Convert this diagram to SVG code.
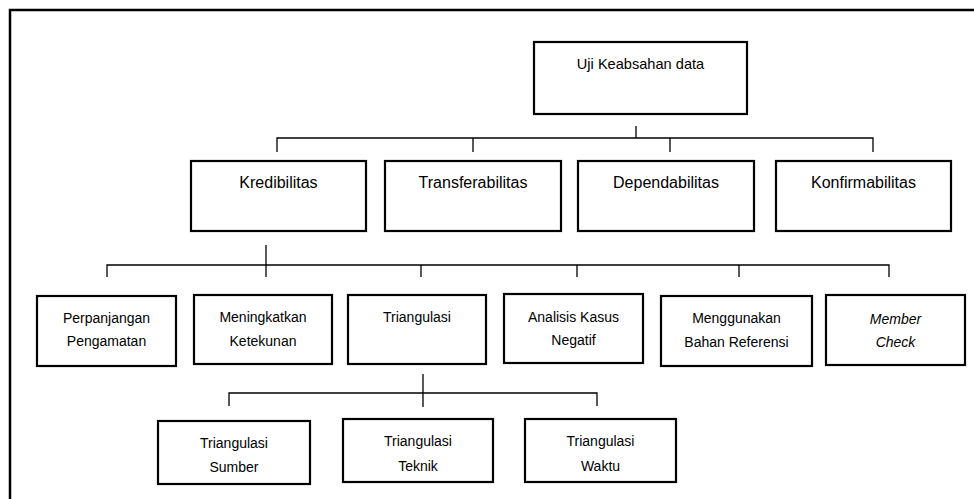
<svg xmlns="http://www.w3.org/2000/svg" width="974" height="499" viewBox="0 0 974 499">
<style>
.box{fill:#fff;stroke:#000;stroke-width:2.2}
.frame{fill:none;stroke:#000;stroke-width:2.5}
.c{fill:none;stroke:#000;stroke-width:1.3}
text{font-family:"Liberation Sans",Arial,sans-serif;fill:#000;text-anchor:middle}
.t1{font-size:14.6px}
.t2{font-size:16px}
.t3{font-size:14px}
.it{font-style:italic}
</style>
<rect width="974" height="499" fill="#fff"/>
<rect class="frame" x="10" y="10" width="1000" height="600"/>
<g id="connectors">
<path class="c" d="M636 126V138M277 152V138H873V152M473 138V152M670 138V152"/>
<path class="c" d="M266 245V277M107 277V265H889V277M421 265V277M577 265V277M739 265V277"/>
<path class="c" d="M423 374V407M229 406V393H597V406"/>
</g>
<g id="root"><rect class="box" x="534" y="42" width="213" height="72"/><text class="t1" x="640.5" y="68.5">Uji Keabsahan data</text></g>
<g id="kredibilitas"><rect class="box" x="191" y="161" width="175" height="70"/><text class="t2" x="278.5" y="188">Kredibilitas</text></g>
<g id="transferabilitas"><rect class="box" x="385" y="161" width="176" height="70"/><text class="t2" x="473" y="188">Transferabilitas</text></g>
<g id="dependabilitas"><rect class="box" x="578" y="161" width="176" height="70"/><text class="t2" x="666" y="188">Dependabilitas</text></g>
<g id="konfirmabilitas"><rect class="box" x="776" y="161" width="175" height="70"/><text class="t2" x="863.5" y="188">Konfirmabilitas</text></g>
<g id="perpanjangan"><rect class="box" x="37" y="296" width="139" height="70"/><text class="t3" x="106.5" y="322.5">Perpanjangan</text><text class="t3" x="106.5" y="345.5">Pengamatan</text></g>
<g id="meningkatkan"><rect class="box" x="194" y="295" width="138" height="69"/><text class="t3" x="263" y="322">Meningkatkan</text><text class="t3" x="263" y="345.5">Ketekunan</text></g>
<g id="triangulasi"><rect class="box" x="348" y="295" width="138" height="69"/><text class="t3" x="417" y="322">Triangulasi</text></g>
<g id="analisis"><rect class="box" x="504" y="294" width="139" height="69"/><text class="t3" x="573.5" y="321.5">Analisis Kasus</text><text class="t3" x="573.5" y="345">Negatif</text></g>
<g id="menggunakan"><rect class="box" x="661" y="296" width="151" height="70"/><text class="t3" x="736.5" y="323">Menggunakan</text><text class="t3" x="736.5" y="346.5">Bahan Referensi</text></g>
<g id="member"><rect class="box" x="826" y="295" width="139" height="70"/><text class="t3 it" x="895.5" y="323.5">Member</text><text class="t3 it" x="895.5" y="347">Check</text></g>
<g id="sumber"><rect class="box" x="158" y="421" width="152" height="63"/><text class="t3" x="234" y="448">Triangulasi</text><text class="t3" x="234" y="472">Sumber</text></g>
<g id="teknik"><rect class="box" x="343" y="419" width="150" height="63"/><text class="t3" x="418" y="446">Triangulasi</text><text class="t3" x="418" y="470.5">Teknik</text></g>
<g id="waktu"><rect class="box" x="525" y="419" width="151" height="63"/><text class="t3" x="600.5" y="446">Triangulasi</text><text class="t3" x="600.5" y="470.5">Waktu</text></g>
</svg>
